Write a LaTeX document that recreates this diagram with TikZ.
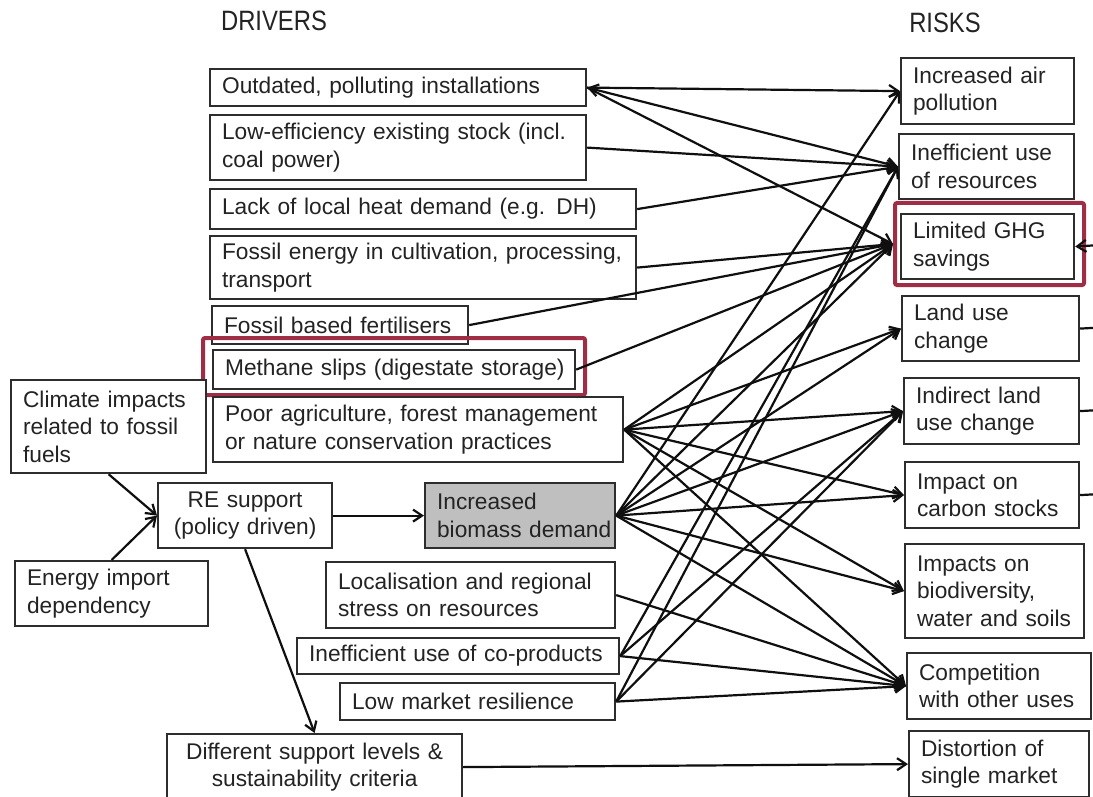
\documentclass[tikz,border=0pt]{standalone}
\usepackage{fontspec}
\setmainfont{Liberation Sans}
\newfontfamily\titlefont[FakeStretch=0.85]{Liberation Sans}
\usetikzlibrary{arrows.meta,fit}
\definecolor{boxc}{RGB}{45,45,45}
\definecolor{linec}{RGB}{15,15,15}
\definecolor{hired}{RGB}{160,45,70}
\definecolor{fillg}{RGB}{191,191,191}
\definecolor{txtc}{RGB}{35,35,35}
\newcommand{\ml}[1]{\mbox{#1}}
\begin{document}
\begin{tikzpicture}[x=1pt,y=-1pt,
  box/.style={draw=boxc, line width=2.2pt, fill=white, anchor=north west, inner xsep=12pt, inner ysep=0pt, align=left, font=\fontsize{22.7}{27.5}\selectfont, text=txtc},
  cbox/.style={box, align=center},
  redbox/.style={draw=hired, line width=4pt, rounded corners=2pt, inner sep=0pt},
  arr/.style={draw=linec, line width=2.2pt, -{Straight Barb[length=9pt,width=12pt]}},
  plain/.style={draw=linec, line width=2.2pt},
  title/.style={font=\titlefont\fontsize{28}{30}\selectfont, text=txtc}]
\fill[white] (0,0) rectangle (1093,797);
\useasboundingbox (0,0) rectangle (1093,797);

% titles
\node[title] (tD) at (274,21) {DRIVERS};
\node[title] (tR) at (945,23) {RISKS};

% drivers
\node[box, text width=352pt, minimum height=37pt] (D1) at (209,68) {\ml{Outdated, polluting installations}};
\node[box, text width=352pt, minimum height=65pt] (D2) at (209,114) {\ml{Low-efficiency existing stock (incl.}\\\ml{coal power)}};
\node[box, text width=402pt, minimum height=40pt] (D3) at (209,188) {\ml{Lack of local heat demand (e.g. DH)}};
\node[box, text width=402pt, minimum height=63pt] (D4) at (209,235) {\ml{Fossil energy in cultivation, processing,}\\\ml{transport}};
\node[box, text width=232pt, minimum height=38pt] (D5) at (211,305) {\ml{Fossil based fertilisers}};
\node[box, text width=338pt, minimum height=39pt] (D6) at (212,349) {\ml{Methane slips (digestate storage)}};
\node[redbox, fit={(203,338) (585,395)}] (D6r) {};
\node[box, text width=386pt, minimum height=65pt] (D7) at (212,396) {\ml{Poor agriculture, forest management}\\\ml{or nature conservation practices}};

\node[box, text width=171pt, minimum height=93pt] (CI) at (10,379) {\ml{Climate impacts}\\\ml{related to fossil}\\\ml{fuels}};
\node[cbox, text width=150pt, minimum height=65pt] (RE) at (157,482) {\ml{RE support}\\\ml{(policy driven)}};
\node[box, fill=fillg, text width=166pt, minimum height=65pt] (BD) at (424,482) {\ml{Increased}\\\ml{biomass demand}};
\node[box, text width=169pt, minimum height=65pt] (EI) at (14,560) {\ml{Energy import}\\\ml{dependency}};
\node[box, text width=265pt, minimum height=66pt] (LO) at (325,561) {\ml{Localisation and regional}\\\ml{stress on resources}};
\node[box, text width=298pt, minimum height=36pt] (CP) at (296,637) {\ml{Inefficient use of co-products}};
\node[box, text width=251pt, minimum height=37pt] (LM) at (339,682) {\ml{Low market resilience}};
\node[cbox, text width=271pt, minimum height=66pt] (DS) at (166,733) {\ml{Different support levels \&}\\\ml{sustainability criteria}};

% risks
\node[box, text width=149pt, minimum height=66pt] (R1) at (900,57) {\ml{Increased air}\\\ml{pollution}};
\node[box, text width=151pt, minimum height=65pt] (R2) at (898,133) {\ml{Inefficient use}\\\ml{of resources}};
\node[box, text width=149pt, minimum height=65pt] (R3) at (900,213) {\ml{Limited GHG}\\\ml{savings}};
\node[redbox, fit={(895,203) (1084,285)}] (R3r) {};
\node[box, text width=153pt, minimum height=65pt] (R4) at (901,295) {\ml{Land use}\\\ml{change}};
\node[box, text width=151pt, minimum height=66pt] (R5) at (903,377) {\ml{Indirect land}\\\ml{use change}};
\node[box, text width=150pt, minimum height=66pt] (R6) at (904,461) {\ml{Impact on}\\\ml{carbon stocks}};
\node[box, text width=155pt, minimum height=94pt] (R7) at (904,543) {\ml{Impacts on}\\\ml{biodiversity,}\\\ml{water and soils}};
\node[box, text width=160pt, minimum height=66pt] (R8) at (906,652) {\ml{Competition}\\\ml{with other uses}};
\node[box, text width=156pt, minimum height=66pt] (R9) at (908,730) {\ml{Distortion of}\\\ml{single market}};

% off-picture ends
\coordinate (o3) at (1100,245);
\coordinate (o4) at (1100,327.5);
\coordinate (o5) at (1100,410);
\coordinate (o6) at (1100,494);

% left-side connectors
\draw[arr] (CI.south) -- (RE.west);
\draw[arr] (EI.north) -- (RE.west);
\draw[arr] (RE.east) -- (BD.west);
\draw[arr] (RE.south) -- (DS.north);
\draw[arr] (DS.east) -- (R9.west);

% drivers to risks
\draw[arr] (D1.east) -- (R1.west);
\draw[arr, {Straight Barb[length=9pt,width=12pt]}-{Straight Barb[length=9pt,width=12pt]}] (D1.east) -- (R2.west);
\draw[arr] (D1.east) -- (R3r.west);
\draw[arr] (D2.east) -- (R2.west);
\draw[arr] (D3.east) -- (R2.west);
\draw[arr] (D4.east) -- (R3r.west);
\draw[arr] (D5.east) -- (R3r.west);
\draw[arr] (D6.east) -- (R3r.west);

\foreach \r in {R4,R5,R6,R7,R8} \draw[arr] (D7.east) -- (\r.west);
\draw[arr] (D7.east) -- (R3r.west);

\foreach \r in {R1,R4,R5,R6,R7,R8} \draw[arr] (BD.east) -- (\r.west);
\draw[arr] (BD.east) -- (R3r.west);

\draw[arr] (LO.east) -- (R8.west);
\foreach \r in {R2,R5,R8} \draw[arr] (CP.east) -- (\r.west);
\foreach \r in {R2,R5,R8} \draw[arr] (LM.east) -- (\r.west);

% connectors leaving the picture
\draw[arr] (o3) -- (R3.east);
\draw[plain] (R4.east) -- (o4);
\draw[plain] (R5.east) -- (o5);
\draw[plain] (R6.east) -- (o6);
\end{tikzpicture}
\end{document}
